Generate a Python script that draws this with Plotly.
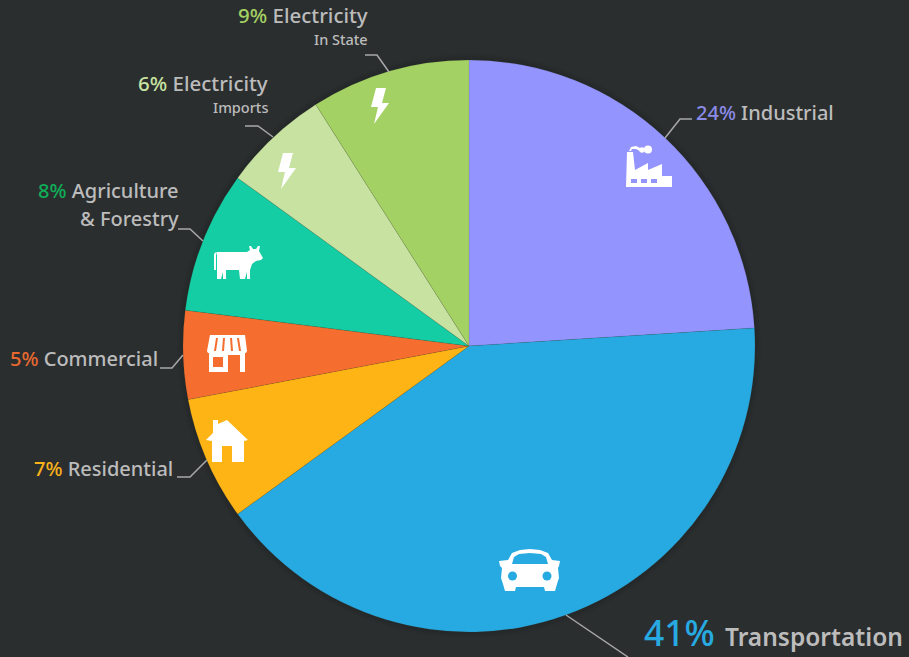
import plotly.graph_objects as go

W, H = 909, 657
categories = ["Industrial", "Transportation", "Residential", "Commercial",
              "Agriculture & Forestry", "Electricity Imports", "Electricity In State"]
values = [24, 41, 7, 5, 8, 6, 9]
slice_colors = ["#9494fe", "#27aae2", "#feb415", "#f56e30", "#14cda4", "#c8e3a1", "#a4d163"]
BG = "#2b2e2f"
TXT = "#bcbcbc"
FONT = "Noto Sans"

CX, CY, R = 469, 346, 286

def px(x): return x / W
def py(y): return 1 - y / H

fig = go.Figure(go.Pie(
    labels=categories, values=values, sort=False, direction="clockwise", rotation=0,
    marker=dict(colors=slice_colors, line=dict(color="rgba(60,70,50,0.22)", width=0.5)),
    textinfo="none", hoverinfo="label+percent", showlegend=False,
    domain=dict(x=[px(CX - R), px(CX + R)], y=[py(CY + R), py(CY - R)]),
))

annotations = []
def label(text, x, y, size, anchor="right", color=TXT, weight=500):
    annotations.append(dict(text=text, x=px(x), y=py(y), xref="paper", yref="paper",
                            xanchor=anchor, yanchor="middle", showarrow=False,
                            font=dict(family=FONT, size=size, color=color, weight=weight),
                            borderpad=0, borderwidth=0))
def pct(p, color, rest):
    return f'<span style="color:{color}">{p}</span> {rest}'

label(pct("9%", "#a4d163", "Electricity"), 368, 14.5, 20.5)
label("In State", 368, 39.5, 14.5)
label(pct("6%", "#c8e3a1", "Electricity"), 268, 83.5, 20.5)
label("Imports", 268, 107.5, 14.5)
label(pct("8%", "#0fae58", "Agriculture"), 179, 191, 20)
label("& Forestry", 179, 218.5, 20)
label(pct("5%", "#e8692f", "Commercial"), 158, 358.5, 20)
label(pct("7%", "#f9b21a", "Residential"), 173, 468.5, 20)
label(pct("24%", "#8a8ae8", "Industrial"), 696, 112.5, 20, anchor="left")
label("41%", 644, 632, 35.5, anchor="left", color="#27aae2", weight=500)
label("Transportation", 725, 636.5, 24.5, anchor="left", weight=600)

shapes = []
def path(pts, close=True):
    return "M" + " L".join(f"{px(x):.5f},{py(y):.5f}" for x, y in pts) + (" Z" if close else "")
def poly(pts, color="#ffffff"):
    shapes.append(dict(type="path", xref="paper", yref="paper", path=path(pts),
                       fillcolor=color, line=dict(width=0)))
def leader(pts):
    shapes.append(dict(type="path", xref="paper", yref="paper", path=path(pts, False),
                       fillcolor="rgba(0,0,0,0)", line=dict(color="#a8a8a8", width=1.5)))
def circle(x, y, r, color, layer="above"):
    shapes.append(dict(type="circle", xref="paper", yref="paper", layer=layer,
                       x0=px(x - r), x1=px(x + r), y0=py(y + r), y1=py(y - r),
                       fillcolor=color, line=dict(width=0)))

# soft halo round the pie
for extra in (6, 4, 2):
    circle(CX, CY, R + extra, "rgba(0,0,0,0.03)", layer="below")

# leader lines
leader([(365, 55), (377, 55), (389, 72)])
leader([(245, 126), (258, 126), (273, 137)])
leader([(178, 229), (190, 229), (203, 241)])
leader([(160, 368), (172, 368), (183, 355)])
leader([(177, 477), (190, 477), (207, 460)])
leader([(566, 615), (628, 657)])
leader([(692, 119), (680, 119), (665, 138)])

# bolts
def bolt(dx, dy):
    poly([(x + dx, y + dy) for x, y in
          [(376, 88), (386, 88), (382, 103), (389, 103), (374, 124), (378, 107), (371, 107)]])
bolt(0, 0)
bolt(-93, 65)

# cow
poly([(217, 252), (247, 252), (250, 250), (249, 246), (251, 246), (253, 249), (256, 249),
      (258, 246), (260, 246), (259, 251), (263, 258), (261, 260), (256, 261), (252, 264),
      (250, 270), (250, 279), (247, 279), (247, 272), (245, 279), (240, 279), (239, 270),
      (226, 270), (226, 279), (223, 279), (223, 272), (221, 279), (217, 279)])
poly([(214, 254), (216, 252), (217, 253), (216, 255), (216, 270), (214, 270)])

# store
ORANGE = slice_colors[3]
poly([(210, 335), (245, 335), (247, 351), (246, 353), (245, 353), (245, 372), (209, 372),
      (209, 353), (208, 353), (207, 351)])
for a, b in [((217, 338), (215, 351)), ((224, 338), (223, 351)), ((231, 338), (232, 351)), ((238, 338), (240, 351))]:
    poly([(a[0] - 1, a[1]), (a[0] + 1, a[1]), (b[0] + 1, b[1]), (b[0] - 1, b[1])], ORANGE)
poly([(213, 357), (223, 357), (223, 367), (213, 367)], ORANGE)
poly([(228, 355), (240, 355), (240, 372), (228, 372)], ORANGE)

# house
poly([(213, 420), (218, 420), (218, 424), (227, 420), (248, 440), (244, 441), (244, 462),
      (232, 462), (232, 446), (222, 446), (222, 462), (212, 462), (212, 441), (206, 440), (213, 433)])

# car
BLUE = slice_colors[1]
poly([(530, 549), (540, 550), (548, 553), (552, 560), (560, 561), (559, 566), (558, 568),
      (559, 578), (557, 584), (555, 591), (545, 591), (544, 587), (516, 587), (515, 591),
      (505, 591), (503, 584), (501, 578), (502, 568), (500, 566), (499, 561), (508, 560),
      (512, 553), (520, 550)])
poly([(530, 553), (541, 554), (546, 557), (548, 564), (512, 564), (514, 557), (519, 554)], BLUE)
circle(512.5, 576, 4.5, BLUE)
circle(547, 576, 4.5, BLUE)

# factory
poly([(626, 187), (627, 152), (633, 152), (635, 170), (648, 163), (648, 170), (662, 164),
      (662, 176), (672, 176), (672, 187)])
for x0 in (631, 641, 651):
    poly([(x0, 179), (x0 + 6, 179), (x0 + 6, 183), (x0, 183)], slice_colors[0])
poly([(629, 151), (631, 147), (636, 146), (640, 148), (640, 151), (636, 149), (632, 149), (631, 151)])
circle(642, 150, 2.8, "#ffffff")
circle(648, 149.5, 4, "#ffffff")

fig.update_layout(width=W, height=H, margin=dict(l=0, r=0, t=0, b=0),
                  paper_bgcolor=BG, plot_bgcolor=BG, annotations=annotations, shapes=shapes,
                  font=dict(family=FONT))
fig.write_html("out.html", config={"displayModeBar": False},
               post_script="document.body.style.margin='0';document.body.style.overflow='hidden';document.documentElement.style.background='%s';" % BG)
